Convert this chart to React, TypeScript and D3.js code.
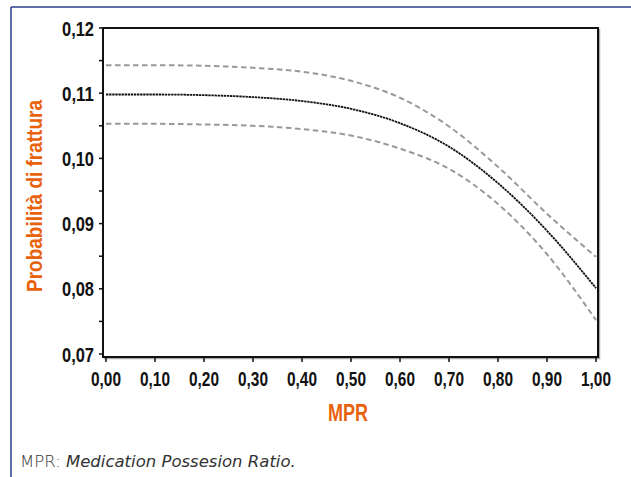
import React from "react";
import * as d3 from "d3";

const mpr = [0, 0.1, 0.2, 0.3, 0.4, 0.5, 0.6, 0.7, 0.8, 0.9, 1.0];
const central = [0.1098, 0.1098, 0.1097, 0.1094, 0.1088, 0.1076, 0.1054, 0.1018, 0.0962, 0.0889, 0.0801];
const upper = [0.1143, 0.1143, 0.1142, 0.1139, 0.1133, 0.1119, 0.1093, 0.1049, 0.0987, 0.0915, 0.0849];
const lower = [0.1053, 0.1053, 0.1052, 0.1050, 0.1045, 0.1035, 0.1015, 0.0984, 0.0930, 0.0853, 0.0752];
const yTicks = [0.07, 0.08, 0.09, 0.1, 0.11, 0.12];
const yMinor = [0.075, 0.085, 0.095, 0.105, 0.115];
const xTicks = [0, 0.1, 0.2, 0.3, 0.4, 0.5, 0.6, 0.7, 0.8, 0.9, 1.0];

const W = 631;
const H = 477;
const FONT = "'Liberation Sans', Arial, sans-serif";
const ORANGE = "#E8620E";

export default function App() {
  const x = d3.scaleLinear().domain([0, 1]).range([106, 596]);
  const y = d3.scaleLinear().domain([0.07, 0.12]).range([354, 28]);
  const frame = { l: 103, r: 598, t: 28, b: 357 };
  const fmt = (v: number, d: number) => v.toFixed(d).replace(".", ",");

  const line = (vals: number[]) =>
    d3
      .line<number>()
      .x((_, i) => x(mpr[i]))
      .y((v) => y(v))
      .curve(d3.curveMonotoneX)(vals) as string;

  return (
    <svg
      width={W}
      height={H}
      style={{ position: "absolute", left: 0, top: 0, background: "#fff" }}
    >
      {/* outer blue frame */}
      <line x1={11} y1={7} x2={W} y2={7} stroke="#2C3E8A" strokeWidth={1.5} />
      <line x1={11} y1={7} x2={11} y2={H} stroke="#2C3E8A" strokeWidth={1.5} />

      {/* plot frame shadow */}
      <rect
        x={frame.l + 1.5}
        y={frame.t + 1.5}
        width={frame.r - frame.l}
        height={frame.b - frame.t}
        fill="none"
        stroke="#aaa"
        strokeWidth={1.5}
      />
      <rect
        x={frame.l}
        y={frame.t}
        width={frame.r - frame.l}
        height={frame.b - frame.t}
        fill="#fff"
        stroke="#111"
        strokeWidth={2}
      />

      {/* y ticks */}
      {yTicks.map((t) => (
        <g key={"y" + t}>
          <line x1={frame.l - 4} x2={frame.l} y1={y(t)} y2={y(t)} stroke="#111" strokeWidth={1.5} />
          <text
            x={frame.l - 41}
            y={y(t) + 7.5}
            textLength={32}
            lengthAdjust="spacingAndGlyphs"
            fontFamily={FONT}
            fontWeight="bold"
            fontSize={21}
            fill="#111"
          >
            {fmt(t, 2)}
          </text>
        </g>
      ))}
      {yMinor.map((t) => (
        <line key={"ym" + t} x1={frame.l - 4} x2={frame.l} y1={y(t)} y2={y(t)} stroke="#111" strokeWidth={1.5} />
      ))}

      {/* x ticks */}
      {xTicks.map((t) => (
        <g key={"x" + t}>
          <line x1={x(t)} x2={x(t)} y1={frame.b} y2={frame.b + 5} stroke="#111" strokeWidth={1.5} />
          <text
            x={x(t) - 15}
            y={386}
            textLength={30}
            lengthAdjust="spacingAndGlyphs"
            fontFamily={FONT}
            fontWeight="bold"
            fontSize={21}
            fill="#111"
          >
            {fmt(t, 2)}
          </text>
        </g>
      ))}

      {/* curves */}
      <path d={line(upper)} fill="none" stroke="#999" strokeWidth={2} strokeDasharray="5.5 3.5" />
      <path d={line(lower)} fill="none" stroke="#999" strokeWidth={2} strokeDasharray="5.5 3.5" />
      <path d={line(central)} fill="none" stroke="#111" strokeWidth={1.8} strokeDasharray="2.4 0.7" />

      {/* axis titles */}
      <text
        x={328}
        y={421}
        textLength={40}
        lengthAdjust="spacingAndGlyphs"
        fontFamily={FONT}
        fontWeight="bold"
        fontSize={24}
        fill={ORANGE}
      >
        MPR
      </text>
      <text
        transform={`translate(42,292) rotate(-90)`}
        textLength={192}
        lengthAdjust="spacingAndGlyphs"
        fontFamily={FONT}
        fontWeight="bold"
        fontSize={22}
        fill={ORANGE}
      >
        Probabilità di frattura
      </text>

      {/* caption */}
      <text x={20} y={467} fontFamily="'DejaVu Sans', sans-serif" fontSize={16.5} fill="#333" fontWeight={200}>
        MPR: <tspan fontStyle="italic">Medication Possesion Ratio.</tspan>
      </text>
    </svg>
  );
}
